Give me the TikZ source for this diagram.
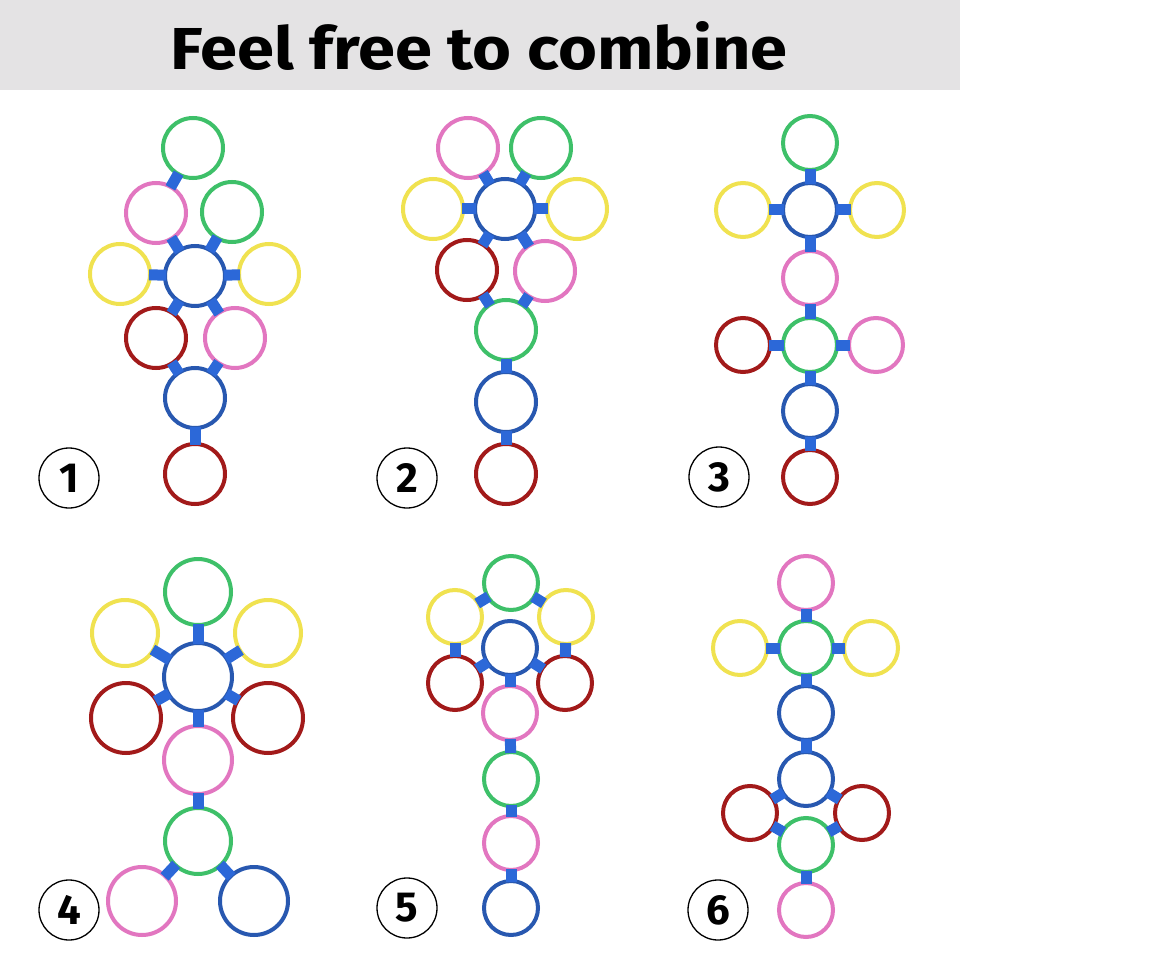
\documentclass[tikz,border=0pt]{standalone}
\usepackage{fontspec}
\newfontfamily\dinfont{Fira Sans}
\definecolor{rgreen}{RGB}{62,192,105}
\definecolor{rpink}{RGB}{226,118,192}
\definecolor{ryellow}{RGB}{240,226,80}
\definecolor{rred}{RGB}{162,26,26}
\definecolor{rblue}{RGB}{40,88,176}
\definecolor{jblue}{RGB}{44,104,216}
\definecolor{bargray}{RGB}{228,227,228}
\tikzset{
  hoop/.style={circle, line width=4pt, inner sep=0pt, minimum size=#1},
  hoop/.default=60pt,
  G/.style={hoop=#1, draw=rgreen}, G/.default=60pt,
  P/.style={hoop=#1, draw=rpink}, P/.default=60pt,
  Y/.style={hoop=#1, draw=ryellow}, Y/.default=60pt,
  R/.style={hoop=#1, draw=rred}, R/.default=60pt,
  B/.style={hoop=#1, draw=rblue}, B/.default=60pt,
  joint/.style={draw=jblue, line width=11pt, shorten <=-3pt, shorten >=-3pt},
  numlabel/.style={circle, draw=black, line width=1.3pt, minimum size=60pt, inner sep=0pt,
    font=\dinfont\bfseries\fontsize{42}{42}\selectfont}
}
\begin{document}
\begin{tikzpicture}[x=1pt,y=-1pt]
\useasboundingbox (0,0) rectangle (1170,960);
\fill[white] (0,0) rectangle (1170,960);
\fill[bargray] (0,0) rectangle (960,90);
\node[anchor=base west, inner sep=0pt] (title) at (170,70)
  {\resizebox{617pt}{48pt}{\dinfont\bfseries Feel free to combine}};

% ---------- Panel 1 ----------
\node[G] (a1) at (193,148) {};
\node[P] (b1) at (156,213) {};
\node[G] (c1) at (232,212) {};
\node[B] (d1) at (195,276) {};
\node[Y] (e1) at (120,274) {};
\node[Y] (f1) at (269,274) {};
\node[R] (g1) at (156,338) {};
\node[P] (h1) at (235,338) {};
\node[B] (i1) at (195,398) {};
\node[R] (j1) at (195,474) {};
\node[numlabel] (L1) at (69,478) {1};
\foreach \u/\v in {a1/b1,b1/d1,c1/d1,e1/d1,f1/d1,g1/d1,h1/d1,g1/i1,h1/i1,i1/j1}
  \draw[joint] (\u) -- (\v);

% ---------- Panel 2 ----------
\node[P] (a2) at (468,148) {};
\node[G] (b2) at (541,148) {};
\node[Y] (c2) at (433,209) {};
\node[B] (d2) at (505,209) {};
\node[Y] (e2) at (577,209) {};
\node[R] (f2) at (467,270) {};
\node[P] (g2) at (545,271) {};
\node[G] (h2) at (506,330) {};
\node[B] (i2) at (506,402) {};
\node[R] (j2) at (506,474) {};
\node[numlabel] (L2) at (407,478) {2};
\foreach \u/\v in {a2/d2,b2/d2,c2/d2,e2/d2,f2/d2,g2/d2,f2/h2,g2/h2,h2/i2,i2/j2}
  \draw[joint] (\u) -- (\v);

% ---------- Panel 3 ----------
\node[G=54pt] (a3) at (810,143) {};
\node[Y=54pt] (b3) at (743,210) {};
\node[B=54pt] (c3) at (810,210) {};
\node[Y=54pt] (d3) at (877,210) {};
\node[P=54pt] (e3) at (810,278) {};
\node[R=54pt] (f3) at (743,345) {};
\node[G=54pt] (g3) at (810,345) {};
\node[P=54pt] (h3) at (876,345) {};
\node[B=54pt] (i3) at (810,411) {};
\node[R=54pt] (j3) at (810,477) {};
\node[numlabel] (L3) at (719,477) {3};
\foreach \u/\v in {a3/c3,b3/c3,d3/c3,c3/e3,e3/g3,f3/g3,h3/g3,g3/i3,i3/j3}
  \draw[joint] (\u) -- (\v);

% ---------- Panel 4 ----------
\node[G=66pt] (a4) at (198,592) {};
\node[Y=66pt] (b4) at (125,633) {};
\node[B=68pt] (c4) at (198,677) {};
\node[Y=66pt] (d4) at (268,633) {};
\node[R=70pt] (e4) at (126,718) {};
\node[R=70pt] (f4) at (268,718) {};
\node[P=68pt] (g4) at (198,760) {};
\node[G=66pt] (h4) at (198,841) {};
\node[P=68pt] (i4) at (142,901) {};
\node[B=68pt] (j4) at (254,901) {};
\node[numlabel] (L4) at (69,910) {4};
\foreach \u/\v in {a4/c4,b4/c4,d4/c4,e4/c4,f4/c4,c4/g4,g4/h4,h4/i4,h4/j4}
  \draw[joint] (\u) -- (\v);

% ---------- Panel 5 ----------
\node[G=54pt] (a5) at (511,583) {};
\node[Y=54pt] (b5) at (455,617) {};
\node[Y=54pt] (c5) at (566,617) {};
\node[B=54pt] (d5) at (510,648) {};
\node[R=54pt] (e5) at (455,683) {};
\node[R=54pt] (f5) at (565,683) {};
\node[P=54pt] (g5) at (510,713) {};
\node[G=54pt] (h5) at (511,779) {};
\node[P=54pt] (i5) at (511,843) {};
\node[B=54pt] (j5) at (511,908) {};
\node[numlabel] (L5) at (407,908) {5};
\foreach \u/\v in {b5/a5,a5/c5,b5/e5,c5/f5,d5/e5,d5/f5,d5/g5,g5/h5,h5/i5,i5/j5}
  \draw[joint] (\u) -- (\v);

% ---------- Panel 6 ----------
\node[P=54pt] (a6) at (806,583) {};
\node[Y=54pt] (b6) at (740,648) {};
\node[G=54pt] (c6) at (806,648) {};
\node[Y=54pt] (d6) at (871,648) {};
\node[B=54pt] (e6) at (806,713) {};
\node[B=54pt] (f6) at (806,779) {};
\node[R=54pt] (g6) at (750,813) {};
\node[R=54pt] (h6) at (862,813) {};
\node[G=54pt] (i6) at (806,845) {};
\node[P=54pt] (j6) at (806,910) {};
\node[numlabel] (L6) at (718,910) {6};
\foreach \u/\v in {a6/c6,b6/c6,d6/c6,c6/e6,e6/f6,f6/g6,f6/h6,g6/i6,h6/i6,i6/j6}
  \draw[joint] (\u) -- (\v);
\end{tikzpicture}
\end{document}
